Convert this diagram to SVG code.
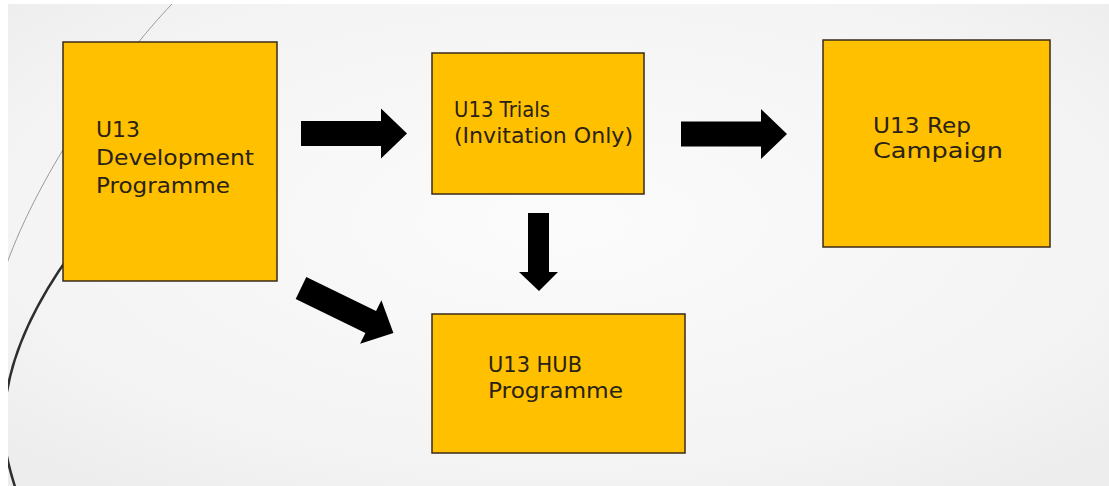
<svg xmlns="http://www.w3.org/2000/svg" width="1109" height="486" viewBox="0 0 1109 486">
  <defs>
    <radialGradient id="bg" cx="0.5" cy="0.45" r="0.7">
      <stop offset="0" stop-color="#fbfbfb"/>
      <stop offset="0.7" stop-color="#f5f4f4"/>
      <stop offset="1" stop-color="#eeeded"/>
    </radialGradient>
    <clipPath id="slide">
      <rect x="8" y="4" width="1101" height="482"/>
    </clipPath>
    <path id="arrowH" d="M0,-12.5 H80 V-25 L106,0 L80,25 V12.5 H0 Z"/>
  </defs>
  <style>
    .box { fill: #FFC000; stroke: #3a2a1a; stroke-width: 1.5; }
    .lbl { font-family: "DejaVu Sans", "Liberation Sans", sans-serif; font-size: 22px; fill: #2a2216; }
    .arrow { fill: #000; }
  </style>

  <rect x="0" y="0" width="1109" height="486" fill="#ffffff"/>
  <rect x="8" y="4" width="1101" height="482" fill="url(#bg)"/>

  <g id="decor" clip-path="url(#slide)" fill="none">
    <path d="M172,4 C120,58 40,170 6,266" stroke="#9a9a9a" stroke-width="1"/>
    <path d="M72,252 C30,310 4,370 4,425 C4,450 9,468 16,490" stroke="#2e2e2e" stroke-width="2.5"/>
  </g>

  <g id="connectors">
    <use href="#arrowH" class="arrow" transform="translate(301,133.5)"/>
    <use href="#arrowH" class="arrow" transform="translate(681,134)"/>
    <path class="arrow" d="M528,213 H549 V272 H558 L539,291 L519,272 H528 Z"/>
    <use href="#arrowH" class="arrow" transform="translate(301,288) rotate(26) scale(0.97)"/>
  </g>

  <g id="node-development">
    <rect class="box" x="63" y="42" width="214" height="239"/>
    <text class="lbl" x="96" y="137" textLength="44" lengthAdjust="spacingAndGlyphs">U13</text>
    <text class="lbl" x="96" y="165" textLength="158" lengthAdjust="spacingAndGlyphs">Development</text>
    <text class="lbl" x="96" y="193" textLength="134" lengthAdjust="spacingAndGlyphs">Programme</text>
  </g>

  <g id="node-trials">
    <rect class="box" x="432" y="53" width="212" height="141"/>
    <text class="lbl" x="454" y="117" textLength="96" lengthAdjust="spacingAndGlyphs">U13 Trials</text>
    <text class="lbl" x="454" y="143" textLength="179" lengthAdjust="spacingAndGlyphs">(Invitation Only)</text>
  </g>

  <g id="node-rep">
    <rect class="box" x="823" y="40" width="227" height="207"/>
    <text class="lbl" x="873" y="133" textLength="98" lengthAdjust="spacingAndGlyphs">U13 Rep</text>
    <text class="lbl" x="873" y="158" textLength="130" lengthAdjust="spacingAndGlyphs">Campaign</text>
  </g>

  <g id="node-hub">
    <rect class="box" x="432" y="314" width="253" height="139"/>
    <text class="lbl" x="488" y="372" textLength="94" lengthAdjust="spacingAndGlyphs">U13 HUB</text>
    <text class="lbl" x="488" y="398" textLength="135" lengthAdjust="spacingAndGlyphs">Programme</text>
  </g>
</svg>
